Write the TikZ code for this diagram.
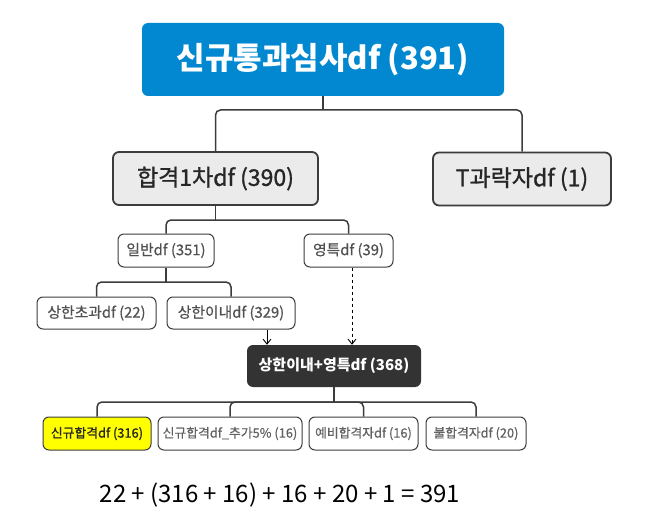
\documentclass[tikz,border=0pt]{standalone}
\usepackage{fontspec}
\setmainfont{Noto Sans CJK KR}
\newfontfamily\cjk{Noto Sans CJK KR}
\newfontfamily\cjkmed[FakeBold=1.2]{Noto Sans CJK KR}
\newfontfamily\cjklight[FakeBold=0.5]{Noto Sans CJK KR}
\usetikzlibrary{arrows.meta,calc}
\definecolor{rootblue}{HTML}{0288D1}
\definecolor{lightfill}{HTML}{EBEBEB}
\definecolor{darkfill}{HTML}{333333}
\definecolor{edge}{HTML}{3C3C3C}
\definecolor{txtgray}{HTML}{505050}
\definecolor{hiyellow}{HTML}{FFFF00}
\tikzset{
  rootbox/.style={draw=none, fill=rootblue, rounded corners=6pt, text=white,
    minimum width=362pt, minimum height=73pt, inner sep=0pt,
    font=\cjk\bfseries\fontsize{31}{36}\selectfont},
  midbox/.style={draw=edge, line width=1.8pt, fill=lightfill, rounded corners=6pt,
    text=black!85, minimum height=53pt, inner sep=0pt,
    font=\cjkmed\fontsize{23}{27}\selectfont},
  smallbox/.style={draw=edge, line width=1pt, fill=white, rounded corners=6pt,
    text=txtgray, minimum height=33pt, inner sep=0pt,
    font=\cjklight\fontsize{14.8}{17}\selectfont},
  combbox/.style={draw=none, fill=darkfill, rounded corners=6pt, text=white,
    minimum width=174pt, minimum height=42pt, inner sep=0pt,
    font=\cjk\bfseries\fontsize{15}{17}\selectfont},
  botbox/.style={draw=edge, line width=1pt, fill=white, rounded corners=6pt,
    text=txtgray!90, minimum height=33pt, inner sep=0pt,
    font=\cjklight\fontsize{12.8}{15}\selectfont},
  conn/.style={draw=edge, line width=1.5pt, rounded corners=5pt},
  arr/.style={draw=black, line width=0.9pt, -{Straight Barb[length=5pt,width=8pt]}},
  formula/.style={font=\cjk\fontsize{24}{28}\selectfont, text=black, inner sep=0pt}
}
\begin{document}
\begin{tikzpicture}[x=1pt,y=-1pt]
\useasboundingbox (0,0) rectangle (665,527);
% nodes
\node[rootbox] (root) at (323,59.5) {신규통과심사df (391)};
\node[midbox, minimum width=205pt] (hap) at (215.5,178.5) {합격1차df (390)};
\node[midbox, minimum width=178pt] (tgr) at (522,179) {T과락자df (1)};
\node[smallbox, minimum width=96pt] (ilban) at (166,250.5) {일반df (351)};
\node[smallbox, minimum width=89pt] (young) at (348.5,250.5) {영특df (39)};
\node[smallbox, minimum width=119pt, minimum height=32pt] (over) at (96.5,313) {상한초과df (22)};
\node[smallbox, minimum width=128pt, minimum height=32pt] (inner) at (231,313) {상한이내df (329)};
\node[combbox] (comb) at (334,366) {상한이내+영특df (368)};
\node[botbox, fill=hiyellow, text=black!85, minimum width=108pt, font=\cjkmed\fontsize{12.8}{15}\selectfont] (new) at (97,433.5) {신규합격df (316)};
\node[botbox, minimum width=144pt] (add) at (230,433.5) {신규합격df\_추가5\% (16)};
\node[botbox, minimum width=109pt] (pre) at (363.5,433.5) {예비합격자df (16)};
\node[botbox, minimum width=100pt] (fail) at (476,433.5) {불합격자df (20)};
\node[formula] (eq) at (280,495) {22 + (316 + 16) + 16 + 20 + 1 = 391};
% junctions
\coordinate (j1) at (323,110);
\coordinate (j2) at (215.5,220);
\coordinate (j3) at (166,282);
\coordinate (j4) at (334,402);
% connectors
\draw[conn, rounded corners=0pt] (root.south) -- (j1);
\draw[conn] (hap.north) |- (j1) -| (tgr.north);
\draw[conn, rounded corners=0pt] (hap.south) -- (j2);
\draw[conn] (ilban.north) |- (j2) -| (young.north);
\draw[conn, rounded corners=0pt] (ilban.south) -- (j3);
\draw[conn] (over.north) |- (j3) -| (inner.north);
\draw[conn, rounded corners=0pt] (comb.south) -- (j4);
\draw[conn] (new.north) |- (j4) -| (fail.north);
\draw[conn] (add.north) |- (j4);
\draw[conn] (pre.north) |- (j4);
% arrows
\draw[arr] ([xshift=36pt]inner.south) -- ([xshift=36pt]inner.south |- comb.north);
\draw[arr, dashed] ([xshift=3.5pt]young.south) -- ([xshift=3.5pt]young.south |- comb.north);
\end{tikzpicture}
\end{document}
